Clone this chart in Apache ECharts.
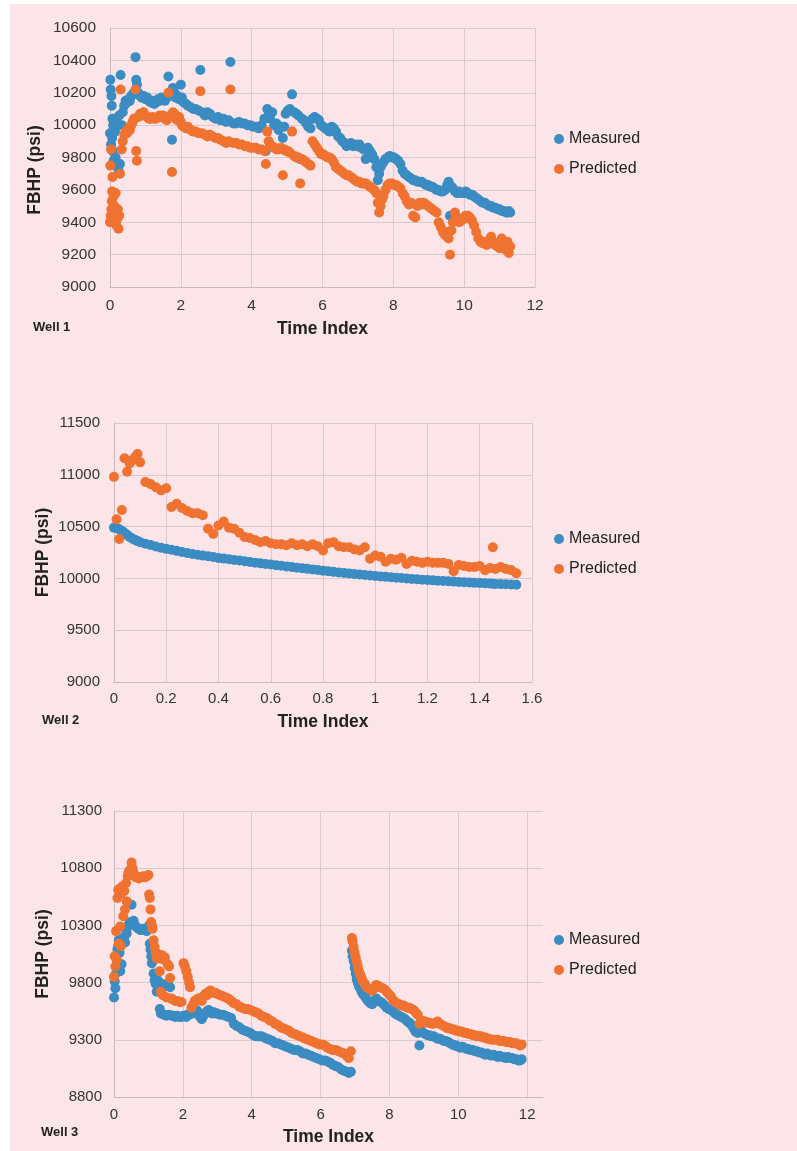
<!DOCTYPE html>
<html><head><meta charset="utf-8">
<script src="https://cdn.jsdelivr.net/npm/echarts@6/dist/echarts.min.js"></script>
<style>
html,body{margin:0;padding:0;background:#fff;}
#bg{position:absolute;left:10px;top:4px;width:787px;height:1147px;background:#fce5e8;}
#chart{position:absolute;left:0;top:0;width:797px;height:1151px;}
</style></head><body><div id="bg"></div><div id="chart"></div>
<script>
// ---------- Well 1 ----------
const w1Time = [
0.00,0.01,0.02,0.03,0.04,0.05,0.06,0.07,0.08,0.09,
0.10,0.12,0.14,0.16,0.18,0.20,0.22,0.24,0.26,0.28,
0.30,0.33,0.36,0.40,0.44,0.48,0.52,0.56,0.60,0.64,
0.68,0.72,0.74,0.76,0.80,0.85,0.90,0.95,1.00,1.05,
1.10,1.15,1.20,1.25,1.30,1.35,1.40,1.45,1.50,1.55,
1.60,1.65,1.70,1.75,1.78,1.82,1.86,1.90,1.95,2.00,
2.03,2.08,2.15,2.20,2.28,2.35,2.42,2.50,2.55,2.60,
2.68,2.75,2.82,2.90,2.98,3.05,3.12,3.20,3.28,3.35,
3.40,3.48,3.56,3.64,3.72,3.80,3.88,3.96,4.04,4.12,
4.20,4.28,4.36,4.40,4.44,4.48,4.52,4.58,4.64,4.70,
4.76,4.82,4.88,4.92,4.96,5.02,5.08,5.14,5.20,5.26,
5.32,5.37,5.42,5.48,5.54,5.60,5.66,5.72,5.78,5.84,
5.90,5.96,6.02,6.08,6.14,6.20,6.26,6.32,6.38,6.44,
6.50,6.56,6.62,6.68,6.74,6.80,6.86,6.92,6.98,7.04,
7.10,7.16,7.22,7.28,7.34,7.40,7.46,7.52,7.56,7.60,
7.64,7.68,7.72,7.78,7.84,7.90,7.96,8.02,8.08,8.14,
8.20,8.26,8.32,8.38,8.44,8.50,8.56,8.62,8.68,8.74,
8.80,8.86,8.92,8.98,9.04,9.10,9.16,9.22,9.28,9.34,
9.40,9.46,9.52,9.56,9.60,9.64,9.68,9.74,9.80,9.86,
9.92,9.98,10.04,10.10,10.16,10.22,10.28,10.34,10.40,10.46,
10.52,10.58,10.64,10.70,10.76,10.82,10.88,10.94,11.00,11.06,
11.12,11.18,11.22,11.26,11.30];
const w1Measured = [
9950,10280,10220,9880,10180,10120,9920,10040,9840,10000,
9780,10040,9960,9800,10020,9760,10000,9720,10060,9760,
10310,10000,10080,10120,10150,10140,10160,10150,10180,10190,
10200,10420,10280,10250,10200,10180,10170,10180,10160,10170,
10150,10140,10150,10130,10140,10160,10150,10170,10160,10150,
10170,10300,10180,9910,10230,10200,10170,10180,10160,10250,
10170,10140,10130,10120,10110,10100,10100,10090,10340,10080,
10060,10080,10070,10050,10040,10050,10030,10040,10020,10030,
10390,10010,10010,10020,10010,10010,10000,10000,9990,9990,
9980,10000,10040,9840,10100,10060,10040,10080,10000,10010,
9970,9990,9920,9990,10070,10090,10100,10190,10080,10070,
10060,9790,10040,10030,10010,9990,9980,10040,10050,10040,
10030,10000,9990,9980,9970,9960,9990,9980,9960,9930,
9920,9900,9890,9870,9880,9890,9870,9880,9870,9880,
9860,9850,9790,9860,9840,9820,9790,9740,9660,9700,
9740,9760,9770,9790,9800,9810,9800,9800,9790,9780,
9760,9720,9700,9690,9680,9670,9660,9660,9650,9650,
9650,9640,9630,9630,9620,9620,9610,9600,9600,9590,
9590,9600,9630,9650,9440,9620,9610,9590,9580,9590,
9580,9580,9590,9580,9570,9570,9560,9550,9540,9530,
9520,9520,9510,9500,9500,9490,9490,9480,9480,9470,
9470,9460,9460,9470,9460];
const w1Predicted = [
9400,9750,9440,9850,9480,9530,9590,9680,9450,9420,
9560,9500,9460,9580,9380,9420,9480,9360,9440,9700,
10220,9850,9900,9940,9960,9950,9980,9970,10000,10020,
10040,10220,9840,9780,10050,10070,10060,10080,10060,10050,
10040,10040,10050,10040,10040,10050,10060,10050,10060,10040,
10030,10200,10060,9710,10080,10070,10040,10030,10050,10020,
10000,9990,9980,9990,9970,9960,9960,9950,10210,9950,
9940,9930,9940,9930,9920,9920,9910,9900,9890,9900,
10220,9890,9890,9880,9880,9870,9870,9860,9860,9860,
9850,9850,9840,9760,9960,9900,9880,9870,9860,9850,
9850,9860,9690,9850,9840,9840,9830,9960,9810,9800,
9800,9640,9790,9780,9770,9760,9750,9900,9880,9860,
9840,9820,9820,9810,9800,9800,9790,9770,9740,9730,
9720,9710,9700,9690,9690,9680,9670,9660,9650,9650,
9640,9640,9640,9630,9620,9610,9600,9580,9520,9460,
9500,9540,9560,9600,9630,9640,9640,9630,9630,9620,
9610,9580,9560,9530,9510,9520,9440,9430,9500,9520,
9510,9520,9510,9500,9490,9480,9470,9460,9400,9370,
9340,9320,9340,9300,9200,9350,9400,9460,9430,9400,
9410,9420,9440,9440,9430,9410,9380,9340,9300,9280,
9270,9280,9260,9270,9310,9280,9260,9250,9240,9300,
9260,9230,9280,9210,9250];

// ---------- Well 2 ----------
const w2Time = [
0.00,0.01,0.02,0.03,0.04,0.05,0.06,0.07,0.08,0.09,
0.10,0.12,0.14,0.16,0.18,0.20,0.22,0.24,0.26,0.28,
0.30,0.32,0.34,0.36,0.38,0.40,0.42,0.44,0.46,0.48,
0.50,0.52,0.54,0.56,0.58,0.60,0.62,0.64,0.66,0.68,
0.70,0.72,0.74,0.76,0.78,0.80,0.82,0.84,0.86,0.88,
0.90,0.92,0.94,0.96,0.98,1.00,1.02,1.04,1.06,1.08,
1.10,1.12,1.14,1.16,1.18,1.20,1.22,1.24,1.26,1.28,
1.30,1.32,1.34,1.36,1.38,1.40,1.42,1.44,1.45,1.46,
1.48,1.50,1.52,1.54];
const w2Measured = [
10490,10485,10475,10460,10440,10420,10400,10385,10372,10360,
10350,10335,10322,10308,10296,10285,10276,10266,10256,10246,
10236,10228,10220,10213,10206,10198,10191,10185,10178,10172,
10166,10159,10152,10146,10140,10134,10128,10122,10116,10110,
10104,10098,10092,10087,10081,10075,10069,10063,10058,10053,
10048,10043,10038,10033,10028,10023,10019,10015,10011,10007,
10003,9999,9995,9992,9988,9985,9981,9978,9975,9972,
9969,9966,9963,9960,9957,9955,9952,9950,9949,9947,
9945,9943,9941,9938];
const w2Predicted = [
10980,10570,10380,10660,11160,11030,11110,11140,11170,11200,
11120,10930,10910,10880,10850,10870,10690,10720,10680,10650,
10630,10630,10610,10480,10430,10510,10550,10490,10480,10440,
10400,10390,10370,10350,10360,10340,10330,10330,10320,10340,
10320,10330,10310,10330,10310,10270,10340,10350,10310,10300,
10300,10280,10270,10300,10190,10220,10210,10160,10190,10180,
10200,10140,10170,10160,10150,10160,10150,10150,10150,10140,
10070,10130,10120,10110,10110,10120,10080,10100,10300,10090,
10110,10090,10080,10050];

// ---------- Well 3 ----------
const w3Time = [
0.00,0.02,0.04,0.06,0.08,0.10,0.12,0.14,0.16,0.18,
0.20,0.22,0.24,0.27,0.30,0.32,0.35,0.37,0.40,0.42,
0.45,0.48,0.51,0.54,0.57,0.60,0.64,0.68,0.72,0.76,
0.80,0.85,0.90,0.95,1.00,1.02,1.04,1.06,1.08,1.10,
1.12,1.15,1.18,1.21,1.24,1.27,1.30,1.33,1.36,1.39,
1.42,1.45,1.48,1.52,1.56,1.60,1.63,1.67,1.72,1.78,
1.84,1.90,1.96,2.02,2.06,2.10,2.14,2.18,2.21,2.25,
2.30,2.35,2.40,2.45,2.50,2.55,2.60,2.65,2.70,2.75,
2.80,2.85,2.90,2.95,3.00,3.08,3.16,3.24,3.32,3.40,
3.48,3.56,3.64,3.72,3.80,3.88,3.96,4.04,4.12,4.20,
4.28,4.36,4.44,4.52,4.60,4.68,4.76,4.84,4.92,5.00,
5.08,5.16,5.24,5.32,5.40,5.48,5.56,5.64,5.72,5.80,
5.88,5.96,6.04,6.12,6.20,6.28,6.36,6.44,6.52,6.60,
6.68,6.76,6.82,6.88,6.91,6.93,6.96,6.99,7.02,7.05,
7.08,7.11,7.15,7.19,7.23,7.28,7.33,7.38,7.44,7.50,
7.56,7.62,7.68,7.74,7.80,7.86,7.92,7.98,8.04,8.10,
8.16,8.22,8.28,8.34,8.40,8.46,8.52,8.58,8.64,8.70,
8.76,8.82,8.87,8.92,8.98,9.04,9.10,9.16,9.22,9.28,
9.34,9.40,9.46,9.52,9.58,9.64,9.70,9.76,9.82,9.88,
9.94,10.00,10.06,10.12,10.18,10.24,10.30,10.36,10.42,10.48,
10.54,10.60,10.66,10.72,10.78,10.84,10.90,10.96,11.02,11.08,
11.14,11.20,11.26,11.32,11.38,11.44,11.50,11.56,11.62,11.68,
11.74,11.80,11.84];
const w3Measured = [
9670,9810,9750,9880,9990,10090,10120,10170,10060,9900,
10150,9960,10180,10170,10200,10150,10260,10230,10290,10300,
10320,10330,10480,10320,10340,10300,10290,10280,10270,10260,
10260,10270,10260,10250,10280,10300,10140,10090,10030,9970,
10030,9880,9820,9790,9720,9820,9780,9570,9530,9790,
9760,9520,9780,9510,9790,9520,9760,9510,9510,9500,
9510,9500,9500,9510,9510,9500,9520,9520,9530,9540,
9530,9550,9560,9540,9500,9480,9510,9530,9550,9560,
9540,9530,9540,9530,9530,9520,9520,9510,9500,9490,
9440,9420,9410,9390,9380,9370,9360,9340,9330,9330,
9330,9320,9310,9300,9290,9270,9270,9260,9250,9240,
9230,9220,9210,9210,9200,9180,9180,9170,9160,9150,
9140,9130,9120,9120,9110,9100,9080,9070,9060,9040,
9030,9020,9010,9020,10080,10030,9990,9930,9880,9830,
9800,9770,9750,9720,9700,9680,9660,9640,9620,9610,
9640,9660,9640,9630,9620,9600,9580,9570,9560,9550,
9530,9520,9510,9500,9490,9480,9460,9450,9430,9400,
9370,9360,9250,9380,9360,9350,9340,9340,9330,9330,
9320,9310,9310,9300,9290,9290,9280,9270,9260,9250,
9250,9240,9230,9240,9230,9220,9220,9210,9210,9200,
9200,9190,9190,9180,9170,9180,9170,9160,9170,9160,
9150,9160,9150,9150,9140,9150,9140,9140,9130,9130,
9120,9120,9130];
const w3Predicted = [
9850,10030,9940,10250,10000,10540,10610,10140,10620,10290,
10120,10580,10640,10380,10600,10440,10670,10510,10730,10760,
10780,10790,10850,10800,10760,10730,10720,10720,10710,10720,
10720,10730,10720,10730,10740,10570,10540,10440,10330,10300,
10270,10170,10110,10060,10010,10050,10010,9900,9720,10040,
9690,10000,10020,9670,9960,9940,9840,9660,9650,9640,
9640,9630,9630,9970,9940,9900,9850,9800,9760,9580,
9610,9640,9650,9660,9660,9640,9680,9700,9690,9720,
9730,9720,9710,9710,9700,9690,9680,9670,9660,9640,
9620,9610,9590,9580,9570,9570,9560,9550,9540,9530,
9510,9500,9490,9470,9460,9440,9430,9410,9400,9390,
9380,9360,9350,9340,9330,9320,9310,9300,9290,9280,
9270,9260,9260,9250,9230,9220,9210,9210,9200,9190,
9180,9160,9140,9200,10190,10160,10110,10060,10020,9980,
9940,9900,9870,9840,9810,9790,9760,9750,9740,9730,
9750,9780,9770,9760,9750,9740,9720,9700,9680,9650,
9630,9620,9610,9600,9600,9590,9580,9580,9570,9560,
9540,9520,9440,9470,9460,9460,9450,9450,9440,9440,
9450,9460,9440,9430,9420,9410,9400,9400,9390,9390,
9380,9380,9370,9370,9360,9360,9350,9350,9340,9340,
9330,9330,9330,9320,9320,9310,9310,9300,9300,9300,
9300,9290,9290,9290,9280,9280,9280,9270,9270,9270,
9260,9250,9260];

const seriesNames = ['Measured', 'Predicted'];
const wellLabels = ['Well 1', 'Well 2', 'Well 3'];
const xAxisName = 'Time Index';
const yAxisName = 'FBHP (psi)';

const FONT = '"Liberation Sans", Arial, Helvetica, sans-serif';
const BLUE = '#3a8cc2';
const ORANGE = '#f07231';
const GRIDC = '#dbc9cc';
const AXISC = '#cbb8bb';

function pairs(t, v) { return t.map((x, i) => [x, v[i]]); }

const wells = [
  {t: w1Time, m: w1Measured, p: w1Predicted},
  {t: w2Time, m: w2Measured, p: w2Predicted},
  {t: w3Time, m: w3Measured, p: w3Predicted}
];

const grids = [
  {left: 110, top: 28, width: 425, height: 259},
  {left: 114, top: 423, width: 418, height: 259},
  {left: 114, top: 811, width: 429, height: 286}
];
const xCfg = [
  {min: 0, max: 12, interval: 2, labelMargin: 11, nameGap: 33, fs: 15.5},
  {min: 0, max: 1.6, interval: 0.2, labelMargin: 9, nameGap: 31, fs: 15},
  {min: 0, max: 12.46, interval: 2, labelMargin: 10, nameGap: 31, fs: 15, hideMax: true}
];
const yCfg = [
  {min: 9000, max: 10600, interval: 200, labelMargin: 14, nameGap: 66, fs: 15.5, pad: [0, 25, 0, 0]},
  {min: 9000, max: 11500, interval: 500, labelMargin: 14, nameGap: 62, fs: 15, pad: 0},
  {min: 8800, max: 11300, interval: 500, labelMargin: 12, nameGap: 62, fs: 15, pad: 0}
];
const legendTops = [126, 526, 927];
const wellPos = [[33, 327], [42, 720], [41, 1132]];

const option = {
  animation: false,
  textStyle: {fontFamily: FONT},
  grid: grids,
  xAxis: xCfg.map((c, i) => ({
    type: 'value', gridIndex: i, min: c.min, max: c.max, interval: c.interval,
    name: xAxisName, nameLocation: 'middle', nameGap: c.nameGap,
    nameTextStyle: {fontSize: 17.5, fontWeight: 'bold', color: '#222', fontFamily: FONT},
    axisLine: {show: true, lineStyle: {color: AXISC, width: 1}},
    axisTick: {show: false},
    axisLabel: {color: '#333', fontSize: c.fs, margin: c.labelMargin, fontFamily: FONT,
                showMaxLabel: c.hideMax ? false : true,
                formatter: v => String(+v.toFixed(2))},
    splitLine: {show: true, lineStyle: {color: GRIDC, width: 1},
                showMaxLine: c.hideMax ? false : true}
  })),
  yAxis: yCfg.map((c, i) => ({
    type: 'value', gridIndex: i, min: c.min, max: c.max, interval: c.interval,
    name: yAxisName, nameLocation: 'middle', nameGap: c.nameGap, nameMoveOverlap: false,
    nameTextStyle: {fontSize: 17.5, fontWeight: 'bold', color: '#222', fontFamily: FONT, padding: c.pad},
    axisLine: {show: true, lineStyle: {color: AXISC, width: 1}},
    axisTick: {show: false},
    axisLabel: {color: '#333', fontSize: c.fs, margin: c.labelMargin, fontFamily: FONT,
                formatter: v => String(v)},
    splitLine: {show: true, lineStyle: {color: GRIDC, width: 1}}
  })),
  legend: legendTops.map(top => ({
    data: seriesNames, orient: 'vertical', left: 549, top: top,
    icon: 'circle', itemWidth: 10, itemHeight: 10, itemGap: 14,
    textStyle: {fontSize: 16, color: '#222', fontFamily: FONT, lineHeight: 16},
    selectedMode: false
  })),
  series: [],
  graphic: wellPos.map((p, i) => ({
    type: 'text', left: p[0], top: p[1] - 6,
    style: {text: wellLabels[i], font: 'bold 13px ' + FONT, fill: '#222'}
  }))
};

wells.forEach((w, i) => {
  option.series.push({
    name: seriesNames[0], type: 'scatter', xAxisIndex: i, yAxisIndex: i,
    symbol: 'circle', symbolSize: 10, data: pairs(w.t, w.m),
    itemStyle: {color: BLUE, opacity: 1}, emphasis: {disabled: true}
  });
  option.series.push({
    name: seriesNames[1], type: 'scatter', xAxisIndex: i, yAxisIndex: i,
    symbol: 'circle', symbolSize: 10, data: pairs(w.t, w.p),
    itemStyle: {color: ORANGE, opacity: 1}, emphasis: {disabled: true}
  });
});

const chart = echarts.init(document.getElementById('chart'), null, {renderer: 'canvas'});
chart.setOption(option);
</script></body></html>
